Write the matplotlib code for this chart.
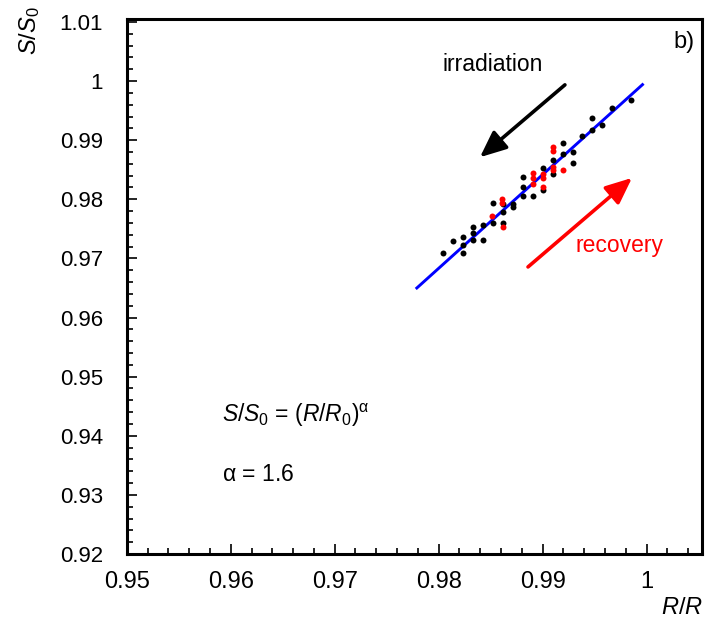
import matplotlib
matplotlib.use("Agg")
import matplotlib.pyplot as plt
from matplotlib.ticker import MultipleLocator

plt.rcParams['font.family'] = ['Liberation Sans', 'DejaVu Sans']
plt.rcParams['mathtext.fontset'] = 'custom'
plt.rcParams['mathtext.rm'] = 'Liberation Sans'
plt.rcParams['mathtext.it'] = 'Liberation Sans:italic'
plt.rcParams['mathtext.bf'] = 'Liberation Sans:bold'

# irradiation points (black)
irr_r = [0.98038, 0.98135, 0.98231, 0.98231, 0.98231, 0.98327, 0.98327, 0.98327,
         0.98423, 0.98423, 0.98519, 0.98519, 0.98615, 0.98615, 0.98615, 0.98712,
         0.98712, 0.98808, 0.98808, 0.98808, 0.98904, 0.99000, 0.99000, 0.99096,
         0.99096, 0.99192, 0.99192, 0.99288, 0.99288, 0.99375, 0.99471, 0.99471,
         0.99567, 0.99663, 0.99846]
irr_s = [0.97093, 0.97296, 0.97355, 0.97223, 0.97098, 0.97538, 0.97426, 0.97313,
         0.97567, 0.97313, 0.97934, 0.97606, 0.97922, 0.97792, 0.97606, 0.97922,
         0.97863, 0.98374, 0.98215, 0.98058, 0.98058, 0.98526, 0.98159, 0.98667,
         0.98430, 0.98949, 0.98768, 0.98802, 0.98611, 0.99073, 0.99382, 0.99174,
         0.99259, 0.99541, 0.99682]

# recovery points (red)
rec_r = [0.98606, 0.98606, 0.98510, 0.98615, 0.98904, 0.98904, 0.98904, 0.99000,
         0.99000, 0.99000, 0.99096, 0.99096, 0.99096, 0.99096, 0.99192]
rec_s = [0.98007, 0.97940, 0.97711, 0.97533, 0.98452, 0.98362, 0.98261, 0.98430,
         0.98362, 0.98205, 0.98892, 0.98824, 0.98553, 0.98497, 0.98497]

# fit line S/S0 = (R/R0)^1.6, end points
fit_r = [0.9779, 0.9996]
fit_s = [0.9650, 0.9994]

fig = plt.figure(figsize=(7.1, 6.27), dpi=100)
ax = fig.add_axes([0.1785, 0.1164, 0.8099, 0.8533])

ax.plot(fit_r, fit_s, color='#0000ff', lw=2.1, zorder=2)
ax.plot(irr_r, irr_s, 'o', color='black', ms=4.3, mew=0, zorder=3)
ax.plot(rec_r, rec_s, 'o', color='#ff0000', ms=4.3, mew=0, zorder=3)

ax.set_xlim(0.95, 1.0053)
ax.set_ylim(0.92, 1.0105)

ax.xaxis.set_minor_locator(MultipleLocator(0.002))
ax.yaxis.set_minor_locator(MultipleLocator(0.002))
ax.set_xticks([0.95, 0.96, 0.97, 0.98, 0.99, 1.0])
ax.set_xticklabels(['0.95', '0.96', '0.97', '0.98', '0.99', '1'])
ax.set_yticks([0.92, 0.93, 0.94, 0.95, 0.96, 0.97, 0.98, 0.99, 1.0, 1.01])
ax.set_yticklabels(['0.92', '0.93', '0.94', '0.95', '0.96', '0.97', '0.98', '0.99', '1', '1.01'])

ax.tick_params(which='both', direction='in', top=False, right=False, width=1.2)
ax.tick_params(which='major', length=7.5)
ax.tick_params(which='minor', length=4)
ax.tick_params(axis='x', labelsize=17, pad=12)
ax.tick_params(axis='y', labelsize=16, pad=17)
for sp in ax.spines.values():
    sp.set_linewidth(2.2)

# arrows
arrow_style = '-|>,head_length=1.6,head_width=0.7'
ax.annotate('', xy=(0.98397, 0.98712), xytext=(0.99214, 0.99936),
            arrowprops=dict(arrowstyle=arrow_style, color='black', lw=2.6,
                            shrinkA=0, shrinkB=0))
ax.annotate('', xy=(0.99859, 0.98362), xytext=(0.98859, 0.96856),
            arrowprops=dict(arrowstyle=arrow_style, color='#ff0000', lw=2.6,
                            shrinkA=0, shrinkB=0))

ax.text(0.98035, 1.00274, 'irradiation', fontsize=16.5, ha='left', va='center')
ax.text(0.99311, 0.97211, 'recovery', fontsize=16.5, color='#ff0000', ha='left', va='center')
ax.text(1.00465, 1.00666, 'b)', fontsize=17, ha='right', va='center')
ax.text(0.95916, 0.94352, r'$S/S_0$ = ($R/R_0$)$^{\mathrm{\alpha}}$', fontsize=16.5,
        ha='left', va='center')
ax.text(0.95916, 0.93337, r'$\mathrm{\alpha}$ = 1.6', fontsize=16.5, ha='left', va='center')

fig.text(0.042, 0.99, r'$S/S_0$', rotation=90, fontsize=17, ha='center', va='top')
fig.text(0.99, 0.030, r'$R/R$', fontsize=17, ha='right', va='center')

fig.savefig('out.png', dpi=100)
